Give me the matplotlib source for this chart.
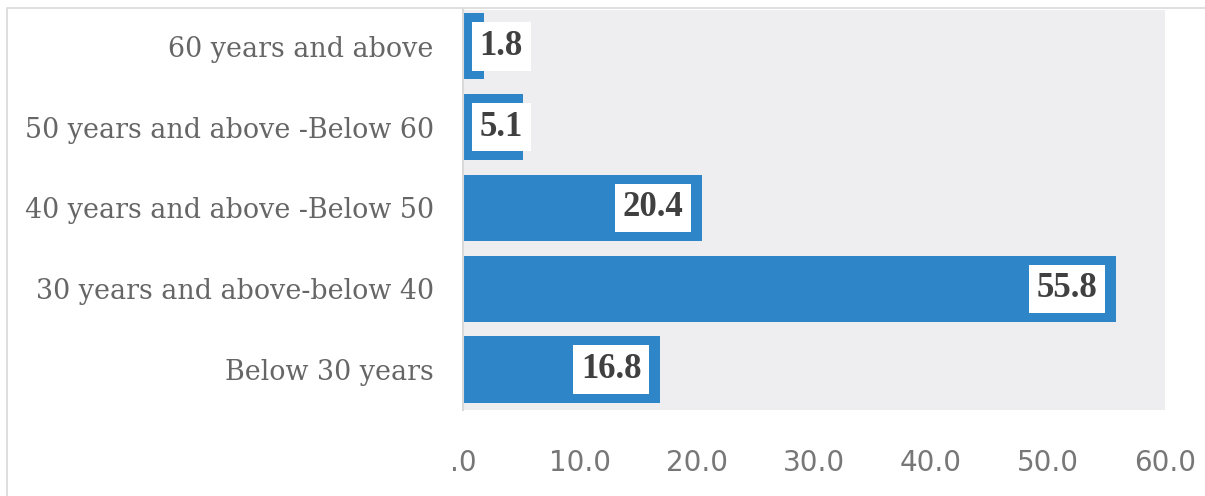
import matplotlib.pyplot as plt
from matplotlib.patches import Rectangle

categories = ["Below 30 years", "30 years and above-below 40",
              "40 years and above -Below 50", "50 years and above -Below 60",
              "60 years and above"]
values = [16.8, 55.8, 20.4, 5.1, 1.8]
xticks = [0, 10, 20, 30, 40, 50, 60]
xtick_labels = [".0", "10.0", "20.0", "30.0", "40.0", "50.0", "60.0"]

fig = plt.figure(figsize=(12.05, 4.96), dpi=100)
fig.patches.append(Rectangle((7 / 1205, -0.1), 1.2, 1 - 8 / 496 + 0.1,
                             transform=fig.transFigure, fill=False,
                             edgecolor="#D9D9D9", lw=1.2))
ax = fig.add_axes([463 / 1205, 86 / 496, 702 / 1205, 400 / 496])
ax.set_facecolor("#EEEEF1")

ypos = list(range(len(categories)))
ax.barh(ypos, values, height=0.82, color="#2E86C8")

for y, v in zip(ypos, values):
    if v > 10:
        ax.annotate(f"{v:.1f}", (v, y), xytext=(-13, 0), textcoords="offset points",
                    ha="right", va="center", fontsize=25, fontweight="bold",
                    family="Liberation Serif", color="#404040",
                    bbox=dict(boxstyle="square,pad=0.22", fc="white", ec="none"))
    else:
        ax.annotate(f"{v:.1f}", (0, y), xytext=(12, 0), textcoords="offset points",
                    ha="left", va="center", fontsize=25, fontweight="bold",
                    family="Liberation Serif", color="#404040",
                    bbox=dict(boxstyle="square,pad=0.22", fc="white", ec="none"))

ax.set_xlim(0, 60)
ax.set_ylim(-0.5, 4.45)
ax.set_xticks(xticks)
ax.set_xticklabels(xtick_labels, fontsize=20, color="#777777", family="DejaVu Sans")
ax.set_yticks(ypos)
ax.set_yticklabels(categories, fontsize=19.4, color="#666666", family="DejaVu Serif")
ax.tick_params(length=0)
ax.tick_params(axis="x", pad=28)
ax.tick_params(axis="y", pad=21)
for s in ["top", "right", "bottom"]:
    ax.spines[s].set_visible(False)
ax.spines["left"].set_color("#D9D9D9")
ax.spines["left"].set_linewidth(1.5)

plt.savefig("out.png", dpi=100)
